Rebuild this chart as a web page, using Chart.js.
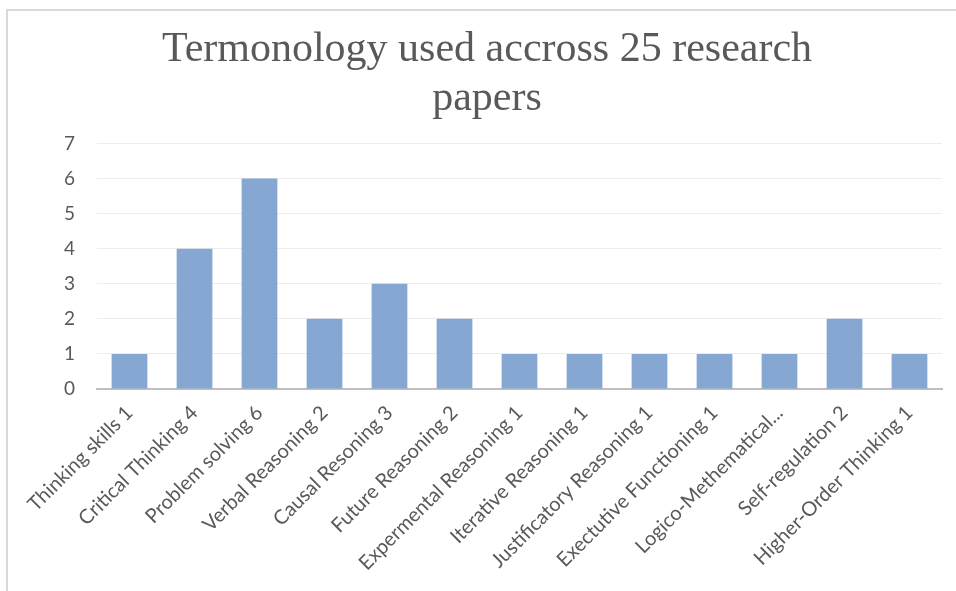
<!DOCTYPE html>
<html>
<head>
<meta charset="utf-8">
<script src="https://cdn.jsdelivr.net/npm/chart.js@4/dist/chart.umd.min.js"></script>
<style>
html,body{margin:0;padding:0;background:#fff;}
#wrap{position:relative;width:956px;height:591px;overflow:hidden;}
#frame{position:absolute;left:6px;top:9px;width:1000px;height:1000px;border-left:2px solid #d9d9d9;border-top:2px solid #d9d9d9;box-sizing:border-box;}
canvas{position:absolute;left:0;top:0;}
</style>
</head>
<body>
<div id="wrap"><div id="frame"></div><canvas id="c" width="956" height="591"></canvas></div>
<script>
const categories = ["Thinking skills 1","Critical Thinking 4","Problem solving 6","Verbal Reasoning 2","Causal Resoning 3","Future Reasoning 2","Expermental Reasoning 1","Iterative Reasoning 1","Justificatory Reasoning 1","Exectutive Functioning 1","Logico-Methematical...","Self-regulation 2","Higher-Order Thinking 1"];
const counts = [1,4,6,2,3,2,1,1,1,1,1,2,1];
const titleLines = ["Termonology used accross 25 research","papers"];
const yTicks = [0,1,2,3,4,5,6,7];

new Chart(document.getElementById('c'), {
  type: 'bar',
  data: {
    labels: categories,
    datasets: [{
      data: counts,
      backgroundColor: '#85a7d2',
      borderWidth: 0,
      barPercentage: 0.55,
      categoryPercentage: 1.0
    }]
  },
  options: {
    responsive: false,
    animation: false,
    devicePixelRatio: 1,
    layout: { padding: { left: 32, right: 14, top: 0, bottom: 0 } },
    plugins: {
      legend: { display: false },
      tooltip: { enabled: false },
      title: {
        display: true,
        text: titleLines,
        color: '#595959',
        font: { family: 'Liberation Serif', size: 42, weight: 'normal', lineHeight: 1.16 },
        padding: { top: 26, bottom: 20 }
      }
    },
    scales: {
      x: {
        grid: { display: false },
        border: { display: true, color: '#bfbfbf', width: 2 },
        ticks: {
          color: '#595959',
          font: { family: 'Lato', size: 20 },
          minRotation: 45, maxRotation: 45,
          autoSkip: false,
          padding: 4
        },
        afterFit: (s) => { s.height = 202; }
      },
      y: {
        min: 0, max: 7,
        afterBuildTicks: (s) => { s.ticks = yTicks.map(v => ({ value: v })); },
        grid: { color: '#ececec', lineWidth: 1, drawTicks: false },
        border: { display: false },
        ticks: {
          color: '#595959',
          font: { family: 'Lato', size: 19 },
          padding: 22
        },
        afterFit: (s) => { s.width = 65; }
      }
    }
  }
});
</script>
</body>
</html>
